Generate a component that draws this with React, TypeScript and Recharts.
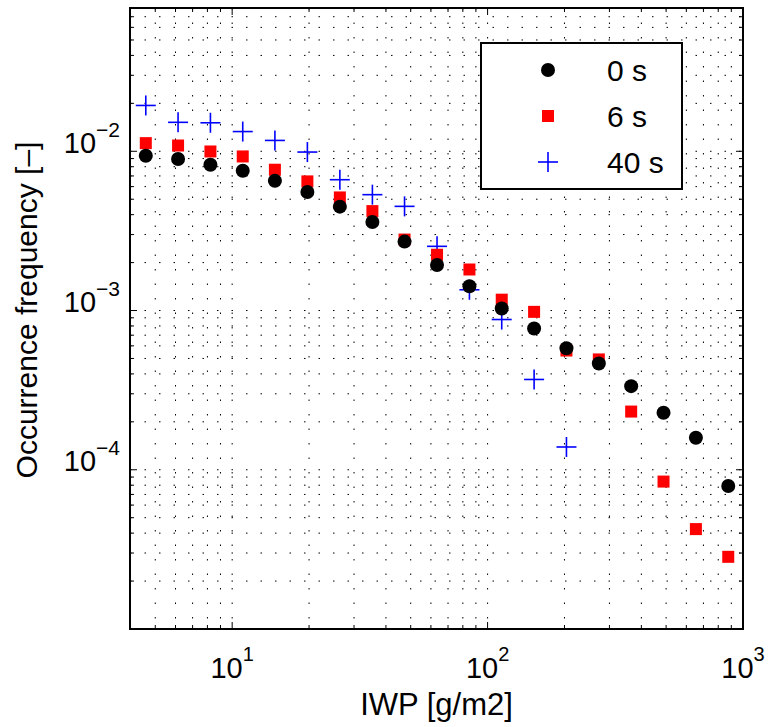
import React from "react";
import {
  ScatterChart,
  Scatter,
  XAxis,
  YAxis,
  CartesianGrid,
  ReferenceLine,
  ReferenceArea,
  Legend,
  Label,
} from "recharts";

// IWP bin centres [g/m2]
const IWP = [4.59, 6.14, 8.22, 11.0, 14.7, 19.7, 26.4, 35.4, 47.3, 63.4, 84.9, 113.6, 152.1, 203.6, 272.6, 364.9, 488.5, 654, 875.5];

// occurrence frequency per series
const FREQ_0S = [0.00937, 0.00894, 0.00823, 0.00755, 0.00653, 0.00555, 0.00449, 0.0036, 0.00271, 0.00193, 0.00142, 0.00103, 0.000771, 0.00058, 0.000465, 0.000335, 0.000228, 0.000159, 0.0000791];
const FREQ_6S = [0.01125, 0.01087, 0.00997, 0.00928, 0.00766, 0.00647, 0.00513, 0.00421, 0.00279, 0.00224, 0.00181, 0.00117, 0.000981, 0.000561, 0.000493, 0.000232, 0.0000843, 0.0000424, 0.0000284];
const FREQ_40S = [0.0194, 0.0152, 0.0151, 0.0133, 0.0117, 0.00989, 0.00663, 0.00534, 0.00451, 0.00253, 0.00135, 0.000878, 0.000369, 0.000139];

const SERIES_LABELS = ["0 s", "6 s", "40 s"];

const X_DOMAIN = [3.981, 1000];
const Y_DOMAIN = [1e-5, 0.0794];
const X_MAJOR = [10, 100, 1000];
const Y_MAJOR = [1e-5, 1e-4, 1e-3, 1e-2];
const MINOR_MULTS = [2, 3, 4, 5, 6, 7, 8, 9];
const X_DECADES = [1, 10, 100];
const Y_DECADES = [1e-5, 1e-4, 1e-3, 1e-2];

const FONT = "'Liberation Sans', Arial, Helvetica, sans-serif";

const xMinor = X_DECADES.flatMap((d) => MINOR_MULTS.map((m) => m * d)).filter(
  (v) => v > X_DOMAIN[0] * 1.01 && v < X_DOMAIN[1]
);
const yMinor = Y_DECADES.flatMap((d) => MINOR_MULTS.map((m) => m * d)).filter(
  (v) => v > Y_DOMAIN[0] && v < Y_DOMAIN[1]
);
const xGrid = [...xMinor, ...X_MAJOR].sort((a, b) => a - b);
const yGrid = [...yMinor, ...Y_MAJOR].sort((a, b) => a - b);

const toPoints = (ys: number[]) => ys.map((y, i) => ({ x: IWP[i], y }));
const data0 = toPoints(FREQ_0S);
const data6 = toPoints(FREQ_6S);
const data40 = toPoints(FREQ_40S);

const circleShape = (p: any) => <circle cx={p.cx} cy={p.cy} r={7} fill="#000" />;
const squareShape = (p: any) => <rect x={p.cx - 6} y={p.cy - 6} width={12} height={12} fill="#ff0000" />;
const plusShape = (p: any) => (
  <g stroke="#0000ff" strokeWidth={1.6}>
    <line x1={p.cx - 10} y1={p.cy} x2={p.cx + 10} y2={p.cy} />
    <line x1={p.cx} y1={p.cy - 10} x2={p.cx} y2={p.cy + 10} />
  </g>
);

const isMajor = (list: number[], v: number) => list.some((m) => Math.abs(v / m - 1) < 1e-6);

const XTick = (props: any) => {
  const { x, y, payload } = props;
  if (!isMajor(X_MAJOR, payload.value)) return <g />;
  const exp = Math.round(Math.log10(payload.value));
  return (
    <text x={x} y={y + 49} textAnchor="middle" fontFamily={FONT} fontSize={29} fill="#000">
      <tspan>10</tspan>
      <tspan dy={-17} fontSize={20}>{exp}</tspan>
    </text>
  );
};

const YTick = (props: any) => {
  const { x, y, payload } = props;
  if (!isMajor(Y_MAJOR.slice(1), payload.value)) return <g />;
  const exp = Math.round(Math.log10(payload.value));
  return (
    <text x={x - 10} y={y + 1.5} textAnchor="end" fontFamily={FONT} fontSize={29} fill="#000">
      <tspan>10</tspan>
      <tspan dy={-16} fontSize={21}>{"\u2212" + Math.abs(exp)}</tspan>
    </text>
  );
};

const LegendBox = () => {
  const rows = [28, 74, 120];
  const markers = [
    <circle key="m0" cx={68} cy={rows[0]} r={7} fill="#000" />,
    <rect key="m1" x={62} y={rows[1] - 6} width={12} height={12} fill="#ff0000" />,
    <g key="m2" stroke="#0000ff" strokeWidth={1.6}>
      <line x1={58} y1={rows[2]} x2={78} y2={rows[2]} />
      <line x1={68} y1={rows[2] - 10} x2={68} y2={rows[2] + 10} />
    </g>,
  ];
  return (
    <svg width={203} height={148} style={{ display: "block" }}>
      <rect x={1} y={1} width={201} height={146} fill="#fff" stroke="#000" strokeWidth={2} />
      {markers}
      {SERIES_LABELS.map((s, i) => (
        <text key={s} x={127} y={rows[i] + 11} fontFamily={FONT} fontSize={30} fill="#000">
          {s}
        </text>
      ))}
    </svg>
  );
};

export default function App() {
  const [x0, x1] = X_DOMAIN;
  const [y0, y1] = Y_DOMAIN;
  // tick lengths in log units (px / px-per-decade)
  const xLen = (px: number) => Math.pow(10, px / 255);
  const yLen = (px: number) => Math.pow(10, px / 159.5);

  const tickLines: React.ReactNode[] = [];
  xGrid.forEach((v) => {
    const len = isMajor(X_MAJOR, v) ? 7 : 4;
    tickLines.push(
      <ReferenceLine key={`xb${v}`} segment={[{ x: v, y: y0 }, { x: v, y: y0 * yLen(len) }]} stroke="#000" strokeWidth={1} ifOverflow="visible" />,
      <ReferenceLine key={`xt${v}`} segment={[{ x: v, y: y1 }, { x: v, y: y1 / yLen(len) }]} stroke="#000" strokeWidth={1} ifOverflow="visible" />
    );
  });
  yGrid.forEach((v) => {
    const len = isMajor(Y_MAJOR, v) ? 7 : 4;
    tickLines.push(
      <ReferenceLine key={`yl${v}`} segment={[{ x: x0, y: v }, { x: x0 * xLen(len), y: v }]} stroke="#000" strokeWidth={1} ifOverflow="visible" />,
      <ReferenceLine key={`yr${v}`} segment={[{ x: x1, y: v }, { x: x1 / xLen(len), y: v }]} stroke="#000" strokeWidth={1} ifOverflow="visible" />
    );
  });

  return (
    <div style={{ position: "absolute", left: 0, top: 0, width: 769, height: 727, background: "#fff" }}>
      <ScatterChart width={769} height={727} margin={{ top: 8, right: 26, bottom: 0, left: 0 }}>
        <CartesianGrid stroke="#000" strokeDasharray="1.5 13" strokeWidth={1} />
        <XAxis
          type="number"
          dataKey="x"
          scale="log"
          domain={X_DOMAIN}
          allowDataOverflow
          ticks={xGrid}
          interval={0}
          tick={<XTick />}
          tickLine={false}
          axisLine={false}
          tickSize={0}
          tickMargin={0}
          height={98}
        >
          <Label
            content={() => (
              <text x={436.5} y={715} textAnchor="middle" fontFamily={FONT} fontSize={31} fill="#000">
                IWP [g/m2]
              </text>
            )}
          />
        </XAxis>
        <YAxis
          type="number"
          dataKey="y"
          scale="log"
          domain={Y_DOMAIN}
          allowDataOverflow
          ticks={yGrid}
          interval={0}
          tick={<YTick />}
          tickLine={false}
          axisLine={false}
          tickSize={0}
          tickMargin={0}
          width={130}
        >
          <Label
            content={() => (
              <text
                x={37}
                y={310}
                transform="rotate(-90, 37, 310)"
                textAnchor="middle"
                fontFamily={FONT}
                fontSize={30}
                fill="#000"
              >
                Occurrence frequency [–]
              </text>
            )}
          />
        </YAxis>
        <Scatter data={data40} shape={plusShape} isAnimationActive={false} />
        <Scatter data={data6} shape={squareShape} isAnimationActive={false} />
        <Scatter data={data0} shape={circleShape} isAnimationActive={false} />
        {tickLines}
        <ReferenceArea x1={x0} x2={x1} y1={y0} y2={y1} fill="none" stroke="#000" strokeWidth={2} ifOverflow="visible" />
        <Legend
          layout="horizontal"
          verticalAlign="middle"
          align="center"
          content={() => <LegendBox />}
          wrapperStyle={{ position: "absolute", left: 480, top: 42, width: 203, height: 148 }}
        />
      </ScatterChart>
    </div>
  );
}
